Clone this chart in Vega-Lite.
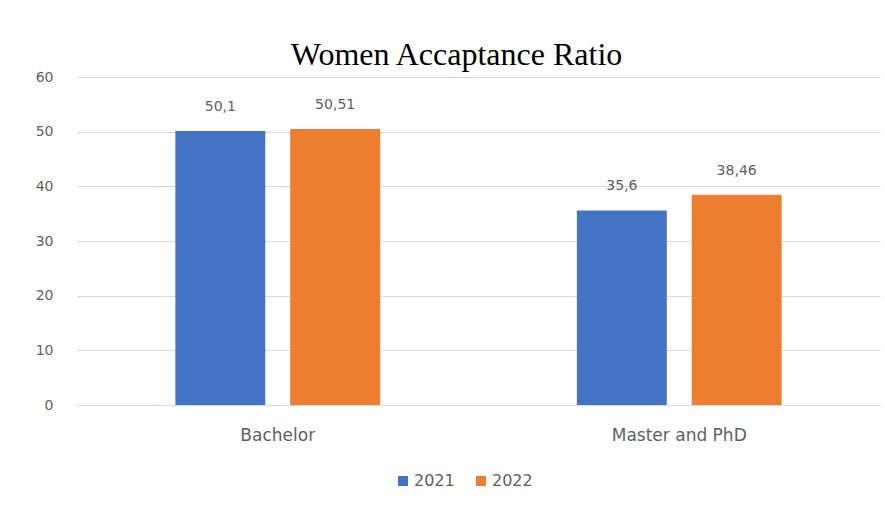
{
  "$schema": "https://vega.github.io/schema/vega-lite/v6.json",
  "autosize": {"type": "none"},
  "width": 803,
  "height": 328,
  "padding": {"left": 77, "top": 77, "right": 5, "bottom": 105},
  "background": "white",
  "title": {
    "text": "Women Accaptance Ratio",
    "font": "Liberation Serif",
    "fontSize": 32,
    "fontWeight": "normal",
    "color": "#000000",
    "anchor": "middle",
    "dx": -22,
    "offset": -2
  },
  "config": {
    "locale": {"number": {"decimal": ",", "thousands": ".", "grouping": [3], "currency": ["", " €"]}},
    "view": {"stroke": null},
    "font": "DejaVu Sans"
  },
  "data": {
    "values": [
      {"category": "Bachelor", "year": "2021", "value": 50.1},
      {"category": "Bachelor", "year": "2022", "value": 50.51},
      {"category": "Master and PhD", "year": "2021", "value": 35.6},
      {"category": "Master and PhD", "year": "2022", "value": 38.46}
    ]
  },
  "encoding": {
    "x": {
      "field": "category",
      "type": "nominal",
      "title": null,
      "scale": {"paddingInner": 0.49, "paddingOuter": 0.245},
      "axis": {
        "labelAngle": 0,
        "labelFont": "DejaVu Sans",
        "labelFontSize": 17,
        "labelColor": "#606060",
        "labelPadding": 22,
        "ticks": false,
        "domainColor": "#d9d9d9"
      }
    },
    "xOffset": {"field": "year", "type": "nominal", "scale": {"paddingInner": 0.217}},
    "y": {
      "field": "value",
      "type": "quantitative",
      "title": null,
      "scale": {"domain": [0, 60], "nice": false},
      "axis": {
        "values": [0, 10, 20, 30, 40, 50, 60],
        "labelOverlap": false,
        "domain": false,
        "ticks": false,
        "labelFont": "DejaVu Sans",
        "labelFontSize": 14,
        "labelColor": "#606060",
        "labelPadding": 24,
        "gridColor": "#d9d9d9"
      }
    }
  },
  "layer": [
    {
      "mark": {"type": "bar"},
      "encoding": {
        "color": {
          "field": "year",
          "type": "nominal",
          "scale": {"range": ["#4472C4", "#ED7D31"]},
          "legend": {
            "title": null,
            "orient": "none",
            "legendX": 318,
            "legendY": 396,
            "direction": "horizontal",
            "symbolType": "square",
            "symbolSize": 100,
            "symbolOffset": 0,
            "labelOffset": 3,
            "labelFont": "DejaVu Sans",
            "labelFontSize": 16,
            "labelColor": "#606060",
            "columnPadding": 18
          }
        }
      }
    },
    {
      "mark": {"type": "text", "baseline": "bottom", "dy": -17, "fontSize": 14, "font": "DejaVu Sans", "color": "#606060"},
      "encoding": {
        "text": {"field": "value", "type": "quantitative", "format": ".4~g"}
      }
    }
  ]
}
